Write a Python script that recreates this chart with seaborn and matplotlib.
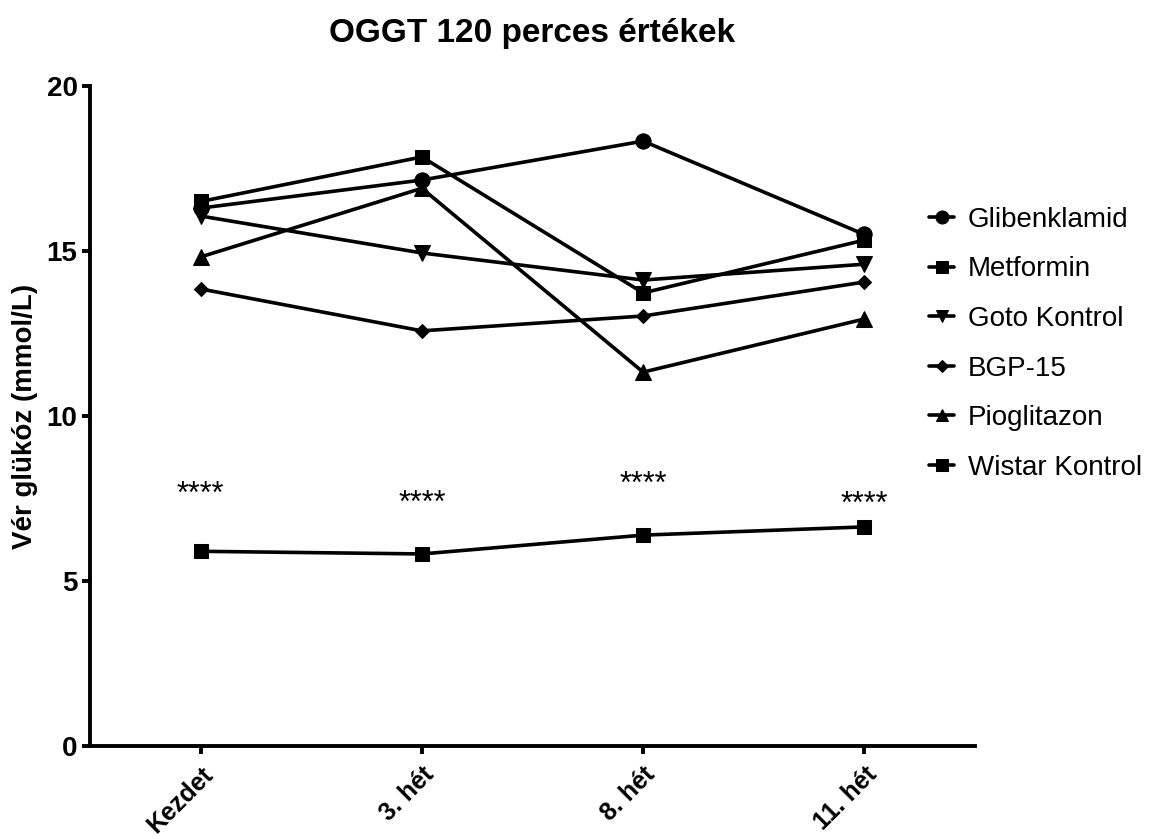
import matplotlib
matplotlib.use("Agg")
import matplotlib.pyplot as plt
import seaborn as sns
import pandas as pd

timepoints = ["Kezdet", "3. hét", "8. hét", "11. hét"]
groups = ["Glibenklamid", "Metformin", "Goto Kontrol", "BGP-15", "Pioglitazon", "Wistar Kontrol"]
glibenklamid = [16.3, 17.15, 18.33, 15.5]
metformin = [16.5, 17.85, 13.73, 15.33]
goto_kontrol = [16.06, 14.94, 14.12, 14.6]
bgp15 = [13.85, 12.58, 13.03, 14.06]
pioglitazon = [14.82, 16.9, 11.33, 12.94]
wistar_kontrol = [5.9, 5.82, 6.39, 6.64]
star_labels = ["****", "****", "****", "****"]
star_heights = [7.6, 7.35, 7.9, 7.3]

series = [glibenklamid, metformin, goto_kontrol, bgp15, pioglitazon, wistar_kontrol]
marker_map = {"Glibenklamid": "o", "Metformin": "s", "Goto Kontrol": "v",
              "BGP-15": "D", "Pioglitazon": "^", "Wistar Kontrol": "s"}
size_map = {"Glibenklamid": 11, "Metformin": 10, "Goto Kontrol": 11,
            "BGP-15": 7.5, "Pioglitazon": 11, "Wistar Kontrol": 10}

rows = []
for g, vals in zip(groups, series):
    for i, v in enumerate(vals):
        rows.append({"group": g, "pos": i, "value": v})
df = pd.DataFrame(rows)

sns.set_theme(style="ticks")
plt.rcParams["font.family"] = ["Liberation Sans", "DejaVu Sans"]
plt.rcParams["text.color"] = "black"
plt.rcParams["axes.labelcolor"] = "black"
plt.rcParams["xtick.color"] = "black"
plt.rcParams["ytick.color"] = "black"

fig = plt.figure(figsize=(11.68, 8.39), dpi=100)
ax = fig.add_axes([90/1168, 1-746/839, (975-90)/1168, (746-86)/839])

for g in groups:
    sub = df[df["group"] == g]
    sns.lineplot(data=sub, x="pos", y="value", ax=ax, color="black",
                 marker=marker_map[g], markersize=size_map[g],
                 markeredgecolor="black", linewidth=2.6, label=g)

for i, (lab, h) in enumerate(zip(star_labels, star_heights)):
    ax.text(i, h, lab, ha="center", va="center", fontsize=22, color="black")

ax.set_xlim(-0.5, 3.5)
ax.set_ylim(0, 20)
ax.set_yticks([0, 5, 10, 15, 20])
ax.set_xticks(range(len(timepoints)))
ax.set_xticklabels(timepoints, rotation=45, ha="right", rotation_mode="anchor",
                   fontsize=18, fontweight="bold")
for t in ax.get_yticklabels():
    t.set_fontsize(20)
    t.set_fontweight("bold")
ax.set_xlabel("")
ax.set_ylabel("Vér glükóz (mmol/L)", fontsize=20, fontweight="bold", labelpad=6)
ax.set_title("OGGT 120 perces értékek", fontsize=24, fontweight="bold", pad=32)

for s in ["top", "right"]:
    ax.spines[s].set_visible(False)
for s in ["left", "bottom"]:
    ax.spines[s].set_linewidth(2.8)
    ax.spines[s].set_color("black")
ax.tick_params(axis="both", which="major", length=6, width=2.8, color="black",
               direction="out", labelcolor="black")
ax.tick_params(axis="x", pad=6)
ax.tick_params(axis="y", pad=3)

leg = ax.legend(loc="upper left", bbox_to_anchor=(0.92, 0.855), frameon=False,
                fontsize=20, handlelength=0.9, handletextpad=0.5, labelspacing=0.85,
                markerscale=0.85)

fig.savefig("out.png", dpi=100)
